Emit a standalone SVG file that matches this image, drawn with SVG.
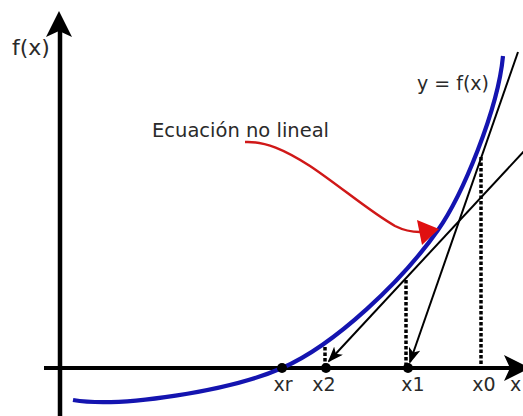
<svg xmlns="http://www.w3.org/2000/svg" width="523" height="416" viewBox="0 0 523 416">
<style>
text{font-family:"DejaVu Sans","Liberation Sans",sans-serif;fill:#2a2a2a}
.lbl{font-size:19px}
.dot{stroke:#000;stroke-width:3.5;stroke-dasharray:3.5 2;fill:none}
.tan{stroke:#000;stroke-width:2;fill:none}
</style>
<defs>
<marker id="ah" viewBox="0 0 16 12" refX="14" refY="6" markerWidth="16" markerHeight="12" markerUnits="userSpaceOnUse" orient="auto">
<path d="M0,0 L16,6 L0,12 L4,6 Z" fill="#000"/>
</marker>
</defs>
<rect width="523" height="416" fill="#fff"/>
<g id="axes">
<line x1="60" y1="416" x2="60" y2="30" stroke="#000" stroke-width="4.5"/>
<path d="M59,11 L72,37 L59,31 L46,37 Z" fill="#000"/>
<line x1="44" y1="368" x2="512" y2="368" stroke="#000" stroke-width="4"/>
<path d="M530,368 L504,355 L510,368 L504,381 Z" fill="#000"/>
</g>
<g id="curve">
<path d="M73,400 C120,408 230,391 282,368 C335,345 403,280 438,230 C462,196 498,110 503,56" fill="none" stroke="#1414b0" stroke-width="4.2"/>
</g>
<g id="connectors">
<line class="dot" x1="481" y1="157" x2="481" y2="365"/>
<line class="dot" x1="406" y1="280" x2="406" y2="365"/>
<line class="dot" x1="325" y1="347" x2="325" y2="365"/>
<line class="tan" x1="518" y1="52" x2="410" y2="362" marker-end="url(#ah)"/>
<line class="tan" x1="526" y1="149" x2="329" y2="361" marker-end="url(#ah)"/>
<path d="M245,142 C265,141 285,150 310,166 C340,186 370,212 395,226 C405,231 413,232 420,232" fill="none" stroke="#d01818" stroke-width="2.5"/>
<path d="M417,220 L439,229 L422,245 Z" fill="#e01010"/>
</g>
<g id="points">
<circle cx="282" cy="368" r="5" fill="#000"/>
<circle cx="326" cy="368" r="5" fill="#000"/>
<circle cx="408" cy="368" r="5" fill="#000"/>
</g>
<g id="labels">
<text x="12" y="55" style="font-size:22px">f(x)</text>
<text x="417" y="90" class="lbl">y = f(x)</text>
<text x="152" y="137" style="font-size:19.5px">Ecuación no lineal</text>
<text x="283" y="391" class="lbl" text-anchor="middle">xr</text>
<text x="324" y="391" class="lbl" text-anchor="middle">x2</text>
<text x="413" y="391" class="lbl" text-anchor="middle">x1</text>
<text x="484" y="391" class="lbl" text-anchor="middle">x0</text>
<text x="510" y="391" class="lbl">x</text>
</g>
</svg>
